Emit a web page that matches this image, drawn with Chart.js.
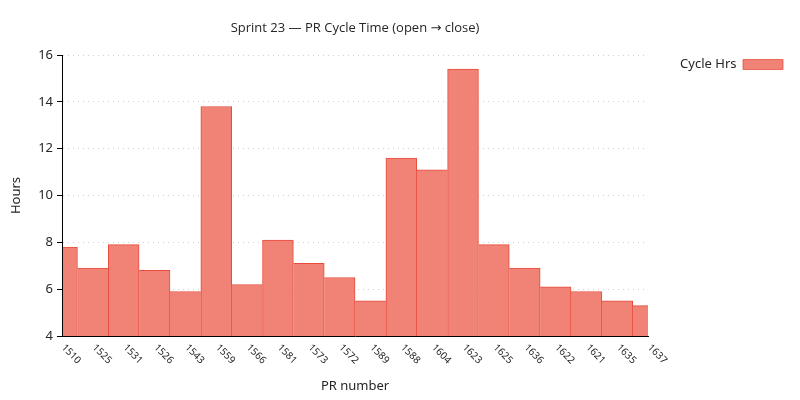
<!DOCTYPE html>
<html>
<head>
<meta charset="utf-8">
<script src="https://cdn.jsdelivr.net/npm/chart.js@4/dist/chart.umd.min.js"></script>
<style>
  html, body { margin: 0; padding: 0; background: #fff; }
  #wrap { width: 800px; height: 400px; }
</style>
</head>
<body>
<div id="wrap"><canvas id="prChart" width="800" height="400"></canvas></div>
<script>
const prNumbers = ['1510', '1525', '1531', '1526', '1543', '1559', '1566', '1581', '1573', '1572',
                   '1589', '1588', '1604', '1623', '1625', '1636', '1622', '1621', '1635', '1637'];
const cycleHrs  = [7.8, 6.9, 7.9, 6.8, 5.9, 13.8, 6.2, 8.1, 7.1, 6.5,
                   5.5, 11.6, 11.1, 15.4, 7.9, 6.9, 6.1, 5.9, 5.5, 5.3];
const yTicks    = [4, 6, 8, 10, 12, 14, 16];

const FONT = 'Noto Sans';
const INK  = '#262626';

// contorno unico entre barras vizinhas: quem for mais alta desenha a linha
function bordas(c) {
  const i = c.dataIndex;
  if (i === undefined) return 1;
  const v = cycleHrs[i];
  const left  = (i === 0 || v >= cycleHrs[i - 1]) ? 1 : 0;
  const right = (i === cycleHrs.length - 1 || v > cycleHrs[i + 1]) ? 1 : 0;
  return { top: 1, left, right, bottom: 0 };
}

// rotulos do eixo x inclinados no sentido horario, ancorados no inicio do texto
const xLabels = {
  id: 'xLabels',
  afterDraw(chart) {
    const xs = chart.scales.x;
    const ctx = chart.ctx;
    ctx.save();
    ctx.font = '10px "' + FONT + '"';
    ctx.fillStyle = INK;
    ctx.textAlign = 'left';
    ctx.textBaseline = 'middle';
    prNumbers.forEach((lab, i) => {
      ctx.save();
      ctx.translate(xs.getPixelForValue(i) + 1, xs.top + 10);
      ctx.rotate(Math.PI / 4);
      ctx.fillText(lab, 0, 0);
      ctx.restore();
    });
    ctx.restore();
  }
};

new Chart(document.getElementById('prChart'), {
  type: 'bar',
  data: {
    labels: prNumbers,
    datasets: [{
      label: 'Cycle Hrs',
      data: cycleHrs,
      backgroundColor: '#f08276',
      borderColor: '#e74c3c',
      borderWidth: bordas,
      borderSkipped: false,
      barPercentage: 1,
      categoryPercentage: 1,
      clip: { left: -1, right: 0, top: 0, bottom: 0 }
    }]
  },
  options: {
    responsive: false,
    animation: false,
    layout: { padding: { top: 0, right: 14, bottom: 0, left: 0 } },
    plugins: {
      title: {
        display: true,
        text: 'Sprint 23 — PR Cycle Time (open → close)',
        font: { family: '"Open Sans", "DejaVu Sans"', size: 13, weight: 'normal' },
        color: INK,
        fullSize: false,
        padding: { top: 20, bottom: 19.4 }
      },
      legend: {
        position: 'right',
        align: 'start',
        fullSize: false,
        rtl: true,
        labels: {
          boxWidth: 40,
          boxHeight: 10,
          padding: 3,
          color: INK,
          font: { family: FONT, size: 13 }
        }
      },
      tooltip: { enabled: false }
    },
    scales: {
      x: {
        type: 'category',
        offset: false,
        grid: { display: false },
        border: { display: true, color: '#000', width: 1 },
        ticks: { display: false },
        title: {
          display: true,
          text: 'PR number',
          color: INK,
          font: { family: FONT, size: 13 },
          padding: { top: 4, bottom: 6.2 }
        },
        afterFit(s) { s.height = 64; }
      },
      y: {
        min: yTicks[0],
        max: yTicks[yTicks.length - 1],
        afterBuildTicks(s) { s.ticks = yTicks.map((v) => ({ value: v })); },
        grid: {
          color: '#cfcfcf',
          tickColor: '#000',
          tickLength: 5,
          tickBorderDash: []
        },
        border: { display: true, color: '#000', width: 1, dash: [1, 4] },
        ticks: {
          color: INK,
          padding: 4,
          font: { family: FONT, size: 13 }
        },
        title: {
          display: true,
          text: 'Hours',
          color: INK,
          font: { family: FONT, size: 13 },
          padding: { top: 8, bottom: 4 }
        },
        afterFit(s) { s.width = 62; }
      },
      // folga entre a area do grafico e a legenda
      gap: {
        type: 'linear',
        position: 'right',
        display: true,
        grid: { display: false },
        border: { display: false },
        ticks: { display: false },
        afterFit(s) { s.width = 22; }
      }
    }
  },
  plugins: [xLabels]
});
</script>
</body>
</html>
